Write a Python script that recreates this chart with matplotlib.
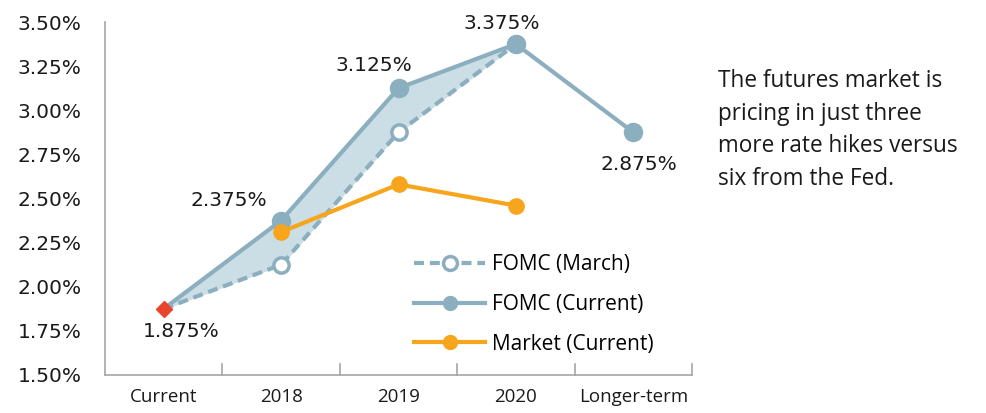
import matplotlib
matplotlib.use('Agg')
import matplotlib.pyplot as plt
from matplotlib.lines import Line2D
import numpy as np

plt.rcParams['font.family'] = ['Open Sans', 'DejaVu Sans']

# data
categories = ['Current', '2018', '2019', '2020', 'Longer-term']
fomc_march = [1.875, 2.125, 2.875, 3.375]
fomc_current = [1.875, 2.375, 3.125, 3.375, 2.875]
market = [2.31, 2.58, 2.46]   # 2018-2020
current_rate = 1.875
yticks = [1.50, 1.75, 2.00, 2.25, 2.50, 2.75, 3.00, 3.25, 3.50]
labels = ['3.375%', '3.125%', '2.875%', '2.375%', '1.875%']
label_pos = [(2.88, 3.494), (1.79, 3.256), (4.05, 2.69), (0.556, 2.486), (0.147, 1.749)]
note = 'The futures market is\npricing in just three\nmore rate hikes versus\nsix from the Fed.'

blue = '#8cafbf'
fill_c = '#cbdde5'
orange = '#f7a51c'
red = '#e8452c'
grey = '#a6a6a6'
num_font = 'DejaVu Sans'

fig = plt.figure(figsize=(9.87, 4.13), dpi=100)
ax = fig.add_axes([105/987, 38/413, 587/987, 353/413])

x = np.arange(len(categories))
dash = (0, (2.4, 1.4))
ax.fill_between(x[:4], fomc_march, fomc_current[:4], color=fill_c, zorder=1)
ax.plot(x[:4], fomc_march, color=blue, lw=3, ls=dash, marker='o', ms=11,
        mfc='white', mec=blue, mew=2.5, markevery=[1, 2, 3], zorder=3)
ax.plot(x, fomc_current, color=blue, lw=3, marker='o', ms=13, mfc=blue, mec=blue,
        markevery=[1, 2, 3, 4], zorder=4)
ax.plot(x[1:4], market, color=orange, lw=3, marker='o', ms=11, mfc=orange, mec=orange, zorder=5)
ax.plot([x[0]], [current_rate], marker='D', color=red, ms=8.5, zorder=6)

ax.set_xlim(-0.5, len(categories) - 0.5)
ax.set_ylim(1.5, 3.5)
ax.set_yticks(yticks)
ax.set_yticklabels(['%.2f%%' % v for v in yticks], fontsize=14.5, family=num_font, color='#1a1a1a')
ax.set_xticks(x)
ax.set_xticklabels(categories, fontsize=13.5, color='#1a1a1a')
ax.tick_params(axis='y', length=0, pad=17)
ax.tick_params(axis='x', length=0, pad=9)
for b in np.arange(-0.5, len(categories), 1.0)[1:]:
    ax.plot([b, b], [1.5, 1.56], color=grey, lw=1.2, clip_on=False)

for s in ['top', 'right']:
    ax.spines[s].set_visible(False)
for s in ['left', 'bottom']:
    ax.spines[s].set_color(grey)
    ax.spines[s].set_linewidth(1.2)

for txt, (lx, ly) in zip(labels, label_pos):
    ax.text(lx, ly, txt, fontsize=14.5, family=num_font, ha='center', va='center', color='#1a1a1a')

handles = [
    Line2D([], [], color=blue, lw=3, ls=dash, marker='o', ms=10, mfc='white', mec=blue, mew=2.5),
    Line2D([], [], color=blue, lw=3, marker='o', ms=10),
    Line2D([], [], color=orange, lw=3, marker='o', ms=10),
]
ax.legend(handles, ['FOMC (March)', 'FOMC (Current)', 'Market (Current)'],
          loc='upper left', bbox_to_anchor=(0.513, 0.366), frameon=False, fontsize=15,
          handlelength=3.4, handletextpad=0.3, labelspacing=0.9, borderaxespad=0)

fig.text(718/987, 1 - 130/413, note, fontsize=16.3, va='center', ha='left',
         linespacing=1.47, color='#1a1a1a')

fig.savefig('out.png', dpi=100)
